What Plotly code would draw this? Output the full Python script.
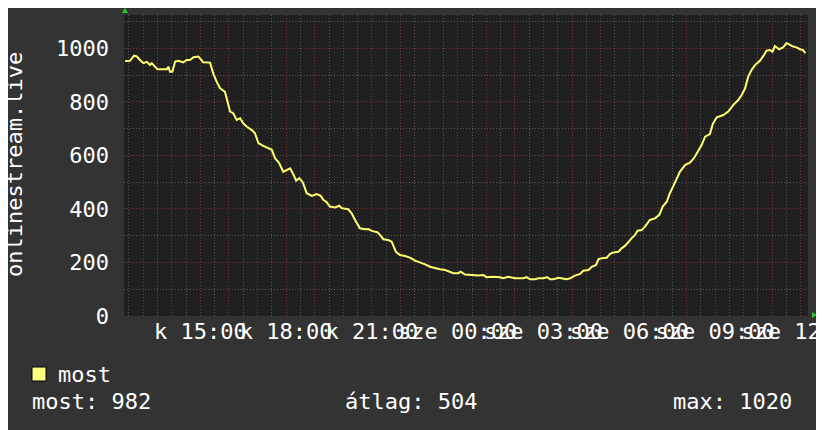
import numpy as np
import plotly.graph_objects as go

# hours since midnight of day 1 (k = kedd), values past 24 are the next day (sze)
hours = [12.37, 12.54, 12.68, 12.78, 12.89, 13.01, 13.13, 13.24, 13.30, 13.42,
         13.50, 13.65, 13.83, 13.88, 13.94, 14.02, 14.12, 14.23, 14.41, 14.52,
         14.64, 14.76, 14.93, 15.01, 15.10, 15.34, 15.45, 15.57, 15.69, 15.86,
         15.94, 16.04, 16.15, 16.27, 16.39, 16.50, 16.62, 16.80, 16.91, 17.03,
         17.20, 17.38, 17.50, 17.61, 17.76, 17.90, 18.02, 18.14, 18.25, 18.35,
         18.46, 18.58, 18.72, 18.90, 19.07, 19.21, 19.30, 19.42, 19.53, 19.71,
         19.86, 19.94, 20.17, 20.29, 20.41, 20.58, 20.76, 20.87, 20.99, 21.19,
         21.28, 21.40, 21.57, 21.69, 21.84, 21.98, 22.16, 22.33, 22.51, 22.68,
         22.86, 23.03, 23.21, 23.38, 23.56, 23.73, 23.85, 24.02, 24.10, 24.26,
         24.49, 24.72, 24.90, 25.01, 25.24, 25.48, 25.59, 25.77, 26.00, 26.29,
         26.41, 26.53, 26.70, 26.82, 26.99, 27.13, 27.23, 27.34, 27.52, 27.69,
         27.81, 27.93, 28.10, 28.28, 28.39, 28.57, 28.69, 28.84, 28.92, 29.03,
         29.21, 29.33, 29.44, 29.62, 29.73, 29.85, 29.97, 30.08, 30.20, 30.29,
         30.43, 30.55, 30.72, 30.90, 31.05, 31.17, 31.31, 31.42, 31.56, 31.66,
         31.77, 31.95, 32.12, 32.26, 32.36, 32.53, 32.65, 32.82, 32.92, 33.06,
         33.29, 33.46, 33.64, 33.81, 33.93, 34.05, 34.16, 34.28, 34.40, 34.57,
         34.69, 34.80, 34.92, 35.01, 35.09, 35.24, 35.38, 35.50, 35.62, 35.73,
         35.85, 35.97, 36.08, 36.16]
viewers = [953, 954, 973, 970, 957, 945, 950, 938, 945, 932,
           922, 922, 922, 932, 913, 913, 951, 954, 948, 957,
           957, 967, 970, 960, 948, 947, 907, 876, 851, 838,
           801, 764, 758, 733, 739, 720, 708, 695, 683, 646,
           636, 627, 621, 590, 571, 539, 546, 552, 530, 506,
           515, 500, 459, 449, 456, 449, 434, 425, 409, 406,
           412, 403, 399, 384, 359, 328, 324, 325, 318, 313,
           303, 287, 284, 278, 240, 228, 224, 218, 207, 201,
           193, 184, 178, 175, 172, 166, 160, 160, 166, 155,
           153, 151, 153, 145, 147, 145, 141, 147, 141, 141,
           145, 137, 137, 141, 141, 145, 137, 137, 143, 139,
           137, 141, 151, 157, 169, 172, 184, 191, 212, 216,
           218, 232, 237, 240, 253, 262, 278, 290, 303, 319,
           321, 334, 359, 365, 378, 409, 427, 459, 490, 515,
           539, 564, 573, 590, 610, 639, 670, 680, 718, 743,
           751, 764, 789, 807, 826, 851, 895, 920, 938, 954,
           972, 992, 994, 988, 1009, 997, 1004, 1020, 1013, 1007,
           1004, 997, 994, 982]

tick_hours = [15, 18, 21, 24, 27, 30, 33, 36]
tick_labels = ["k 15:00", "k 18:00", "k 21:00", "sze 00:00",
               "sze 03:00", "sze 06:00", "sze 09:00", "sze 12:00"]
stats = ["most: 982", "átlag: 504", "max: 1020"]
series_name = "most"
y_title = "onlinestream.live"

FONT = "DejaVu Sans Mono"
PAGE = 8  # default body margin of the html page
# plot area in screen pixels
L, R, T, B = 124, 808, 15, 316


def px(x):
    return (x - L) / (R - L)


def py(y):
    return (B - y) / (B - T)


hour_ticks = list(range(13, 37))
hour_text = [tick_labels[tick_hours.index(h)] if h in tick_hours else "" for h in hour_ticks]

fig = go.Figure(go.Scatter(x=hours, y=viewers, mode="lines",
                           line=dict(color="#ffff6e", width=2), showlegend=False))

major_grid = "rgba(170,60,60,0.65)"
minor_grid = "rgba(140,140,140,0.5)"

fig.update_xaxes(range=[12.33, 36.25], tickmode="array", tickvals=hour_ticks, ticktext=hour_text,
                 tickangle=0, ticklabeloverflow="allow",
                 showgrid=True, gridcolor=major_grid, griddash="1px,2px", gridwidth=1,
                 minor=dict(tickvals=list(np.arange(12.5, 36.5, 1.0)), showgrid=True,
                            gridcolor=minor_grid, griddash="1px,2px", gridwidth=1),
                 ticks="", zeroline=False, showline=False,
                 tickfont=dict(family=FONT, size=22, color="white"), automargin=False)
fig.update_yaxes(range=[0, 1125], tickmode="linear", tick0=0, dtick=200,
                 showgrid=True, gridcolor=major_grid, griddash="1px,2px", gridwidth=1,
                 minor=dict(dtick=100, showgrid=True, gridcolor=minor_grid, griddash="1px,2px"),
                 ticks="", zeroline=False, showline=False, ticklabelstandoff=14,
                 tickfont=dict(family=FONT, size=22, color="white"), automargin=False)

ann = [
    dict(x=px(14), y=py(165), text=y_title, textangle=-90, xanchor="center", yanchor="middle"),
    dict(x=px(56), y=py(374), text=series_name, xanchor="left", yanchor="middle"),
    dict(x=px(30), y=py(402), text=stats[0], xanchor="left", yanchor="middle"),
    dict(x=px(411), y=py(402), text=stats[1], xanchor="center", yanchor="middle"),
    dict(x=px(794), y=py(402), text=stats[2], xanchor="right", yanchor="middle"),
]
for a in ann:
    a.update(xref="paper", yref="paper", showarrow=False,
             font=dict(family=FONT, size=22, color="white"))

shapes = [
    # legend swatch
    dict(type="rect", xref="paper", yref="paper", x0=px(32), x1=px(46), y0=py(381), y1=py(367),
         fillcolor="#ffff80", line=dict(color="black", width=1)),
    # axis arrows
    dict(type="path", xref="paper", yref="paper",
         path=f"M {px(122)} {py(13)} L {px(128)} {py(13)} L {px(125)} {py(8)} Z",
         fillcolor="#22cc22", line=dict(width=0)),
    dict(type="path", xref="paper", yref="paper",
         path=f"M {px(812)} {py(312)} L {px(812)} {py(318)} L {px(817)} {py(315)} Z",
         fillcolor="#22cc22", line=dict(width=0)),
]

fig.update_layout(width=824, height=430,
                  margin=dict(l=L - PAGE, r=824 - (R - PAGE), t=T - PAGE, b=430 - (B - PAGE)),
                  paper_bgcolor="#333333", plot_bgcolor="#202020",
                  font=dict(family=FONT, color="white"),
                  annotations=ann, shapes=shapes)

fig.write_html("out.html")
